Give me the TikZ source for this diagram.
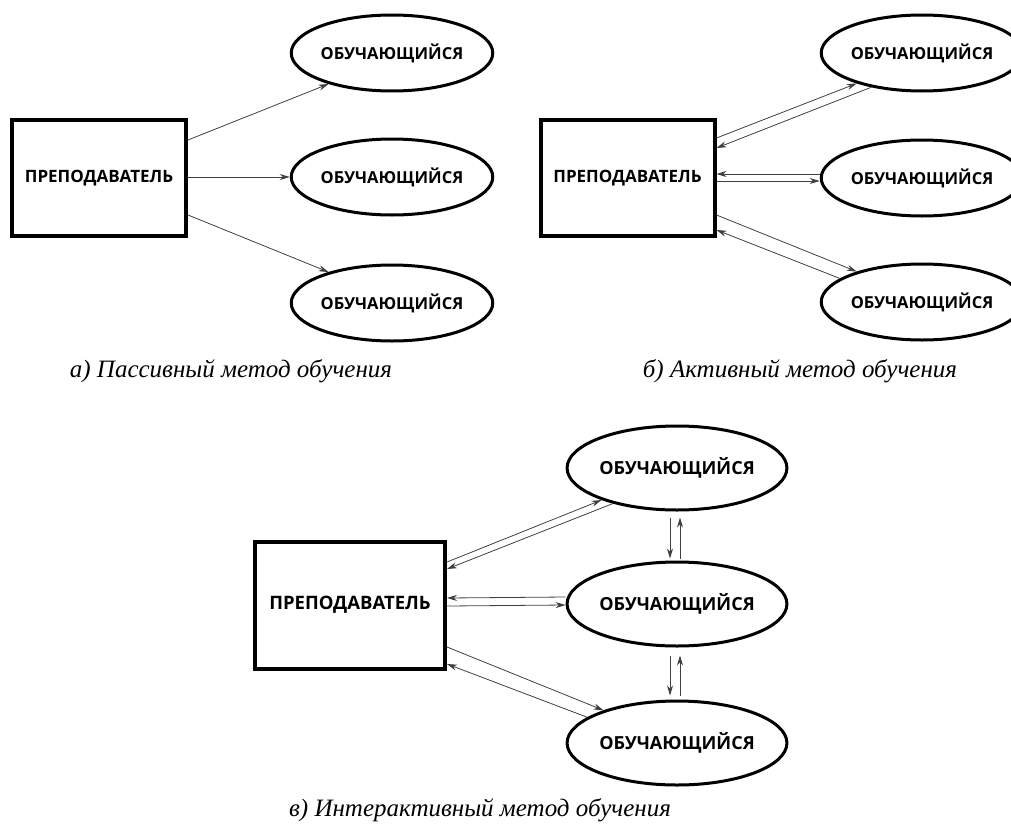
\documentclass[tikz,border=0pt]{standalone}
\usepackage{fontspec}
\setmainfont{Liberation Serif}
\newfontfamily\boxfont{Open Sans}
\usetikzlibrary{arrows.meta,shapes.geometric,positioning}

\tikzset{
  teacher/.style={draw, rectangle, line width=4pt, inner sep=0pt,
    minimum width=174pt, minimum height=116pt,
    font=\boxfont\bfseries\fontsize{17}{17}\selectfont},
  learner/.style={draw, ellipse, line width=3pt, inner sep=0pt,
    minimum width=168pt, minimum height=76pt,
    font=\boxfont\bfseries\fontsize{16.5}{16.5}\selectfont},
  arr/.style={-{Stealth[length=10pt,width=6pt]}, line width=0.8pt, black!75},
  caption/.style={font=\itshape\fontsize{25}{25}\selectfont}
}

\begin{document}
\begin{tikzpicture}[x=1pt, y=-1pt]
    \useasboundingbox (0,0) rectangle (1011,827);

    % а) passive
    \node[teacher] (boxa) at (99,178) {ПРЕПОДАВАТЕЛЬ};
    \foreach \y/\n in {53/1,177/2,303/3} {
        \node[learner] (ea\n) at (392,\y) {ОБУЧАЮЩИЙСЯ};
    }
    \draw[arr] ([yshift=38pt]boxa.east) -- (ea1.206);
    \draw[arr] (boxa.east |- ea2) -- (ea2.west);
    \draw[arr] ([yshift=-37pt]boxa.east) -- (ea3.154);
    \node[caption] (capa) at (231,371) {а) Пассивный метод обучения};

    % б) active
    \node[teacher] (boxb) at (627.5,178) {ПРЕПОДАВАТЕЛЬ};
    \foreach \y/\n in {53/1,178/2,302/3} {
        \node[learner] (eb\n) at (922,\y) {ОБУЧАЮЩИЙСЯ};
    }
    \draw[arr] ([yshift=40pt]boxb.east) -- (eb1.205);
    \draw[arr] (eb1.214) -- ([yshift=30pt]boxb.east);
    \draw[arr] ([yshift=4pt]eb2.west) -- ([yshift=4pt]boxb.east);
    \draw[arr] ([yshift=-3pt]boxb.east) -- ([yshift=-3pt]eb2.west);
    \draw[arr] ([yshift=-37pt]boxb.east) -- (eb3.155);
    \draw[arr] (eb3.164) -- ([yshift=-52pt]boxb.east);
    \node[caption] (capb) at (800,371) {б) Активный метод обучения};

    % в) interactive
    \node[teacher, minimum width=190pt, minimum height=127pt,
          font=\boxfont\bfseries\fontsize{18.5}{18.5}\selectfont] (boxc) at (350,605) {ПРЕПОДАВАТЕЛЬ};
    \foreach \y/\n in {468/1,604/2,743/3} {
        \node[learner, minimum width=198pt, minimum height=84pt,
              font=\boxfont\bfseries\fontsize{18}{18}\selectfont] (ec\n) at (677,\y) {ОБУЧАЮЩИЙСЯ};
    }
    \draw[arr] ([yshift=43pt]boxc.east) -- (ec1.203);
    \draw[arr] (ec1.209) -- ([yshift=36pt]boxc.east);
    \draw[arr] ([yshift=7pt]ec2.west) -- ([yshift=7pt]boxc.east);
    \draw[arr] ([yshift=-1pt]boxc.east) -- ([yshift=-1pt]ec2.west);
    \draw[arr] ([yshift=-42pt]boxc.east) -- (ec3.156);
    \draw[arr] (ec3.164) -- ([yshift=-59pt]boxc.east);
    % between the learners
    \draw[arr, shorten <=6pt, shorten >=2pt] ([xshift=-7pt]ec1.south) -- ([xshift=-7pt]ec2.north);
    \draw[arr, shorten <=2pt, shorten >=6pt] ([xshift=3pt]ec2.north) -- ([xshift=3pt]ec1.south);
    \draw[arr, shorten <=8pt, shorten >=4pt] ([xshift=-7pt]ec2.south) -- ([xshift=-7pt]ec3.north);
    \draw[arr, shorten <=4pt, shorten >=8pt] ([xshift=3pt]ec3.north) -- ([xshift=3pt]ec2.south);
    \node[caption] (capc) at (480,810) {в) Интерактивный метод обучения};
\end{tikzpicture}
\end{document}
